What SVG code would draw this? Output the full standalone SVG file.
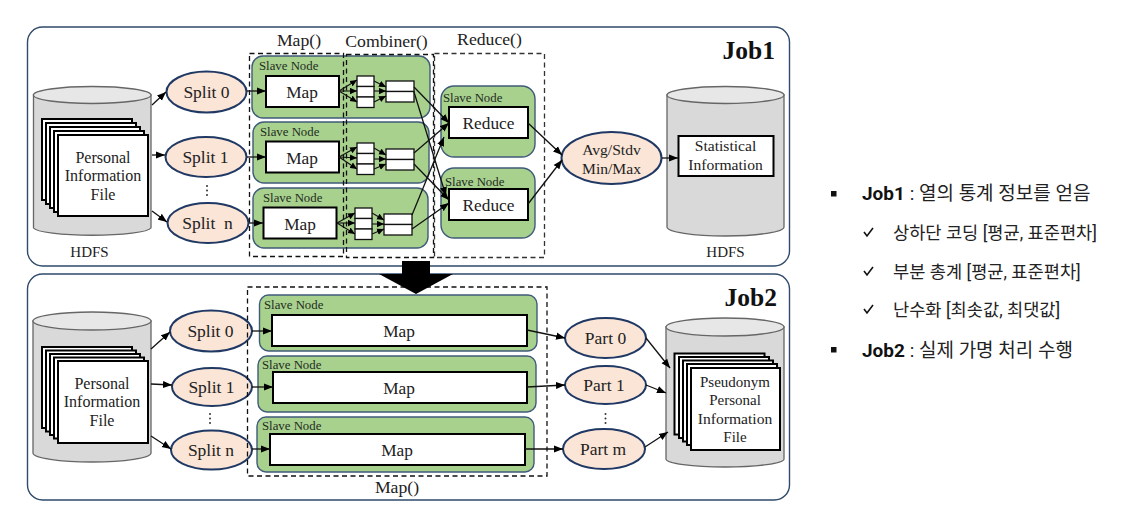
<svg xmlns="http://www.w3.org/2000/svg" width="1148" height="532" viewBox="0 0 1148 532">
<style>
text{font-family:"Liberation Serif","Noto Serif CJK KR",serif;fill:#222;text-anchor:middle}
.job{fill:#fff;stroke:#2f4a6b;stroke-width:1.4}
.jobt{font-size:25.5px;font-weight:bold;fill:#111;text-anchor:end}
.body{fill:#d9d9d9;stroke:#666;stroke-width:1.3}
.top{fill:#e7e7e7;stroke:#666;stroke-width:1.3}
.file{fill:#fff;stroke:#000;stroke-width:2}
.ov{fill:#fbe5d6;stroke:#1f3864;stroke-width:2}
.slave{fill:#a9d18e;stroke:#3f5b7a;stroke-width:1.4}
.box{fill:#fff;stroke:#000;stroke-width:2}
.sm{fill:#fff;stroke:#111;stroke-width:1.3}
.t16{font-size:16px}.t17{font-size:17.5px}.t18{font-size:17.3px}.t15{font-size:15px}.t156{font-size:15.6px}.lab{font-size:17.7px}
.sl{font-size:12.8px;text-anchor:start;fill:#1e2d1e}
.dash{fill:none;stroke:#111;stroke-width:1.3;stroke-dasharray:5 3.5}
.dashg{fill:none;stroke:#333;stroke-width:1.3;stroke-dasharray:5 3.5}
.c{fill:none;stroke:#111;stroke-width:1.3;marker-end:url(#a)}
.c2{fill:none;stroke:#111;stroke-width:1.1;marker-end:url(#b)}
.dots{fill:#333}
.k{font-family:Roboto,"Noto Sans CJK KR",sans-serif;font-size:19px;text-anchor:start;fill:#222}
.ks{font-size:17.6px}
.kb{font-weight:bold;fill:#111}
.sq{fill:#111}
.chk{fill:none;stroke:#111;stroke-width:1.6}
</style>
<defs>
<marker id="a" markerUnits="userSpaceOnUse" markerWidth="10" markerHeight="8" refX="9" refY="4" orient="auto"><path d="M0,0.4 L9,4 L0,7.6Z" fill="#000"/></marker>
<marker id="b" markerUnits="userSpaceOnUse" markerWidth="8" markerHeight="7" refX="7" refY="3.5" orient="auto"><path d="M0,0.3 L7,3.5 L0,6.7Z" fill="#000"/></marker>
</defs>

<g id="job1"><rect class="job" x="27.5" y="27" width="762" height="239" rx="15"/><text class="jobt" x="775" y="59">Job1</text></g>
<g id="job2"><rect class="job" x="27.5" y="274" width="762" height="226" rx="15"/><text class="jobt" x="777" y="306">Job2</text></g>

<g id="hdfs-in">
<path class="body" d="M33.5,95V228A59,8 0 0 0 151,228V95Z"/><ellipse class="top" cx="92.2" cy="95" rx="58.8" ry="8.5"/>
<rect class="file" x="42" y="119" width="90" height="81"/><rect class="file" x="46" y="123" width="90" height="81"/><rect class="file" x="50" y="127" width="90" height="81"/><rect class="file" x="54" y="131" width="90" height="81"/><rect class="file" x="58" y="135" width="90" height="81"/>
<text class="t16" x="103" y="163">Personal</text><text class="t16" x="103" y="181">Information</text><text class="t16" x="103" y="200">File</text>
<text class="t15" x="89.500" y="257">HDFS</text>
</g>

<g id="split0-1"><ellipse class="ov" cx="206.500" cy="92" rx="40" ry="20.500"/><text class="t17" x="206.500" y="98">Split 0</text></g>
<g id="split1-1"><ellipse class="ov" cx="206" cy="157" rx="40.500" ry="20"/><text class="t17" x="205.500" y="163">Split 1</text></g>
<g id="splitn-1"><ellipse class="ov" cx="208" cy="223" rx="40.500" ry="20"/><text class="t17" x="207.500" y="229" xml:space="preserve">Split  n</text></g>
<g id="dots-1" class="dots"><circle cx="207" cy="186" r="1"/><circle cx="207" cy="190.500" r="1"/><circle cx="207" cy="195" r="1"/></g>

<g id="slave1"><rect class="slave" x="252" y="56" width="178" height="62" rx="11"/><text class="sl" x="259" y="70">Slave Node</text>
<rect class="box" x="266" y="76" width="73" height="31"/><text class="t18" x="302" y="98">Map</text>
<rect class="sm" x="357" y="76" width="17" height="10.500"/><rect class="sm" x="357" y="86.500" width="17" height="10.500"/><rect class="sm" x="357" y="97" width="17" height="10.500"/>
<rect class="sm" x="386" y="81" width="28" height="10.500"/><rect class="sm" x="386" y="91.500" width="28" height="10.500"/></g>

<g id="slave2"><rect class="slave" x="253" y="122" width="176" height="61" rx="11"/><text class="sl" x="260" y="136">Slave Node</text>
<rect class="box" x="266" y="141.500" width="73" height="31"/><text class="t18" x="302" y="164">Map</text>
<rect class="sm" x="357" y="143" width="17" height="10.500"/><rect class="sm" x="357" y="153.500" width="17" height="10.500"/><rect class="sm" x="357" y="164" width="17" height="10.500"/>
<rect class="sm" x="386" y="149" width="28" height="10.500"/><rect class="sm" x="386" y="159.500" width="28" height="10.500"/></g>

<g id="slave3"><rect class="slave" x="253" y="188" width="175" height="60" rx="11"/><text class="sl" x="263" y="202">Slave Node</text>
<rect class="box" x="263.500" y="207.500" width="73" height="31"/><text class="t18" x="300" y="230">Map</text>
<rect class="sm" x="355" y="208" width="17" height="10.500"/><rect class="sm" x="355" y="218.500" width="17" height="10.500"/><rect class="sm" x="355" y="229" width="17" height="10.500"/>
<rect class="sm" x="384" y="214" width="28" height="10.500"/><rect class="sm" x="384" y="224.500" width="28" height="10.500"/></g>

<g id="reduce1"><rect class="slave" x="441" y="86" width="94" height="71" rx="13"/><text class="sl" x="443" y="102">Slave Node</text>
<rect class="box" x="449" y="107" width="79" height="31"/><text class="t18" x="488.500" y="129">Reduce</text></g>
<g id="reduce2"><rect class="slave" x="441" y="168" width="94" height="70" rx="13"/><text class="sl" x="445" y="186">Slave Node</text>
<rect class="box" x="449" y="189" width="79" height="31"/><text class="t18" x="488.500" y="211">Reduce</text></g>

<g id="avg"><ellipse class="ov" cx="611.500" cy="158" rx="50" ry="26"/><text class="t156" x="611.500" y="155">Avg/Stdv</text><text class="t156" x="611.500" y="174">Min/Max</text></g>

<g id="hdfs-out">
<path class="body" d="M667,95V227A58.500,9 0 0 0 784,227V95Z"/><ellipse class="top" cx="725.500" cy="95" rx="58.500" ry="8.500"/>
<rect class="box" x="678.500" y="136" width="95" height="40"/>
<text class="t156" x="725.500" y="151">Statistical</text><text class="t156" x="725.500" y="170">Information</text>
<text class="t15" x="725.500" y="257">HDFS</text>
</g>

<g id="labels-1"><text class="lab" x="299" y="46">Map()</text><text class="lab" x="386.500" y="47">Combiner()</text><text class="lab" x="489.500" y="45">Reduce()</text></g>
<g id="frames-1"><rect class="dash" x="249.500" y="53.500" width="94" height="203"/><rect class="dash" x="346.500" y="54.500" width="87" height="203"/><rect class="dashg" x="434.500" y="53.500" width="110" height="204"/></g>

<g id="hdfs-in-2">
<path class="body" d="M33,321V453A59,9 0 0 0 151,453V321Z"/><ellipse class="top" cx="92" cy="321" rx="59" ry="9"/>
<rect class="file" x="42" y="347" width="90" height="81"/><rect class="file" x="46" y="350.500" width="90" height="81"/><rect class="file" x="50" y="354" width="90" height="81"/><rect class="file" x="54" y="357.500" width="90" height="81"/><rect class="file" x="58" y="361" width="90" height="82"/>
<text class="t16" x="102" y="389">Personal</text><text class="t16" x="102" y="407">Information</text><text class="t16" x="102" y="426">File</text>
</g>

<g id="split0-2"><ellipse class="ov" cx="211" cy="331" rx="41" ry="20.500"/><text class="t17" x="210.500" y="337">Split 0</text></g>
<g id="split1-2"><ellipse class="ov" cx="212" cy="387" rx="40" ry="19"/><text class="t17" x="211.500" y="393">Split 1</text></g>
<g id="splitn-2"><ellipse class="ov" cx="211.500" cy="450" rx="40.500" ry="19.500"/><text class="t17" x="211" y="456">Split n</text></g>
<g id="dots-2" class="dots"><circle cx="210" cy="414" r="1"/><circle cx="210" cy="418.500" r="1"/><circle cx="210" cy="423" r="1"/></g>

<g id="slave4"><rect class="slave" x="259.500" y="295" width="277.500" height="56" rx="9"/><text class="sl" x="264" y="309">Slave Node</text>
<rect class="box" x="272" y="315" width="255" height="31"/><text class="t18" x="399" y="337">Map</text></g>
<g id="slave5"><rect class="slave" x="258" y="356" width="278" height="56" rx="9"/><text class="sl" x="262" y="369">Slave Node</text>
<rect class="box" x="273" y="372" width="254" height="31"/><text class="t18" x="399" y="394">Map</text></g>
<g id="slave6"><rect class="slave" x="257" y="417" width="277" height="55" rx="9"/><text class="sl" x="262" y="430">Slave Node</text>
<rect class="box" x="270" y="434" width="255" height="31"/><text class="t18" x="397" y="456">Map</text></g>

<g id="part0"><ellipse class="ov" cx="605.500" cy="338" rx="40.500" ry="20"/><text class="t17" x="605.500" y="344">Part 0</text></g>
<g id="part1"><ellipse class="ov" cx="605.500" cy="385" rx="40.500" ry="19"/><text class="t17" x="604" y="391">Part 1</text></g>
<g id="partm"><ellipse class="ov" cx="604" cy="449" rx="41" ry="20"/><text class="t17" x="603" y="455">Part m</text></g>
<g id="dots-3" class="dots"><circle cx="605.500" cy="414" r="1"/><circle cx="605.500" cy="418.500" r="1"/><circle cx="605.500" cy="423" r="1"/></g>

<g id="hdfs-out-2">
<path class="body" d="M666,327V459A59,8 0 0 0 784,459V327Z"/><ellipse class="top" cx="725" cy="327" rx="59" ry="9"/>
<rect class="file" x="674.500" y="353.500" width="90" height="81"/><rect class="file" x="679" y="357" width="90" height="81"/><rect class="file" x="683" y="360.500" width="90" height="81"/><rect class="file" x="687" y="364" width="90" height="81"/><rect class="file" x="691" y="368" width="89" height="82"/>
<text class="t15" x="735" y="387">Pseudonym</text><text class="t15" x="735" y="405">Personal</text><text class="t156" x="735" y="424">Information</text><text class="t15" x="735" y="442">File</text>
</g>

<g id="frame-2"><rect class="dash" x="247.500" y="287" width="299.500" height="189"/><text class="lab" x="397" y="493">Map()</text></g>

<g id="connectors">
<path class="c" d="M152,105L166,92"/><path class="c" d="M152,155H165"/><path class="c" d="M152,211L167,222"/>
<path class="c" d="M247,91H266"/><path class="c" d="M247,157H266"/><path class="c" d="M249,223H263"/>
<path class="c2" d="M339,91L357,80"/><path class="c2" d="M339,91L357,91"/><path class="c2" d="M339,91L357,102"/>
<path class="c2" d="M339,157L357,147"/><path class="c2" d="M339,157L357,158"/><path class="c2" d="M339,157L357,169"/>
<path class="c2" d="M337,223L355,213"/><path class="c2" d="M337,223L355,223"/><path class="c2" d="M337,223L355,234"/>
<path class="c2" d="M374,81L386,87"/><path class="c2" d="M374,91L386,91"/><path class="c2" d="M374,102L386,96"/>
<path class="c2" d="M374,148L386,155"/><path class="c2" d="M374,159L386,159"/><path class="c2" d="M374,169L386,164"/>
<path class="c2" d="M372,213L384,220"/><path class="c2" d="M372,224L384,224"/><path class="c2" d="M372,234L384,229"/>
<path class="c" d="M414,87L449,123"/><path class="c" d="M414,92L446,196"/>
<path class="c" d="M414,153L449,123"/><path class="c" d="M414,164L449,200"/>
<path class="c" d="M412,215L444,137"/><path class="c" d="M412,229L449,203"/>
<path class="c" d="M528,123L562,155"/><path class="c" d="M528,204L562,160"/>
<path class="c" d="M662,158H678"/>
<path class="c" d="M151,349L170,332"/><path class="c" d="M151,384L172,385"/><path class="c" d="M151,436L171,449"/>
<path class="c" d="M252,331H272"/><path class="c" d="M252,387H273"/><path class="c" d="M252,449H270"/>
<path class="c" d="M527,330L565,338"/><path class="c" d="M527,387L565,385"/><path class="c" d="M525,449H563"/>
<path class="c" d="M646,338L670,368"/><path class="c" d="M646,385L666,393"/><path class="c" d="M645,447L668,432"/>
<polygon id="job-transition" points="402,261 430,261 430,274 453,274 416,294 379,274 402,274" fill="#000"/>
</g>

<g id="notes">
<rect class="sq" x="831" y="191" width="5.500" height="5.500"/>
<text class="k" x="862" y="200"><tspan class="kb">Job1</tspan> : 열의 통계 정보를 얻음</text>
<path class="chk" d="M864,232l3,4l6,-8"/><text class="k ks" x="893" y="238.500">상하단 코딩 [평균, 표준편차]</text>
<path class="chk" d="M864,271l3,4l6,-8"/><text class="k ks" x="893" y="277.500">부분 총계 [평균, 표준편차]</text>
<path class="chk" d="M864,309l3,4l6,-8"/><text class="k ks" x="893" y="316">난수화 [최솟값, 최댓값]</text>
<rect class="sq" x="831" y="347" width="5.500" height="5.500"/>
<text class="k" x="862" y="356.500"><tspan class="kb">Job2</tspan> : 실제 가명 처리 수행</text>
</g>
</svg>
